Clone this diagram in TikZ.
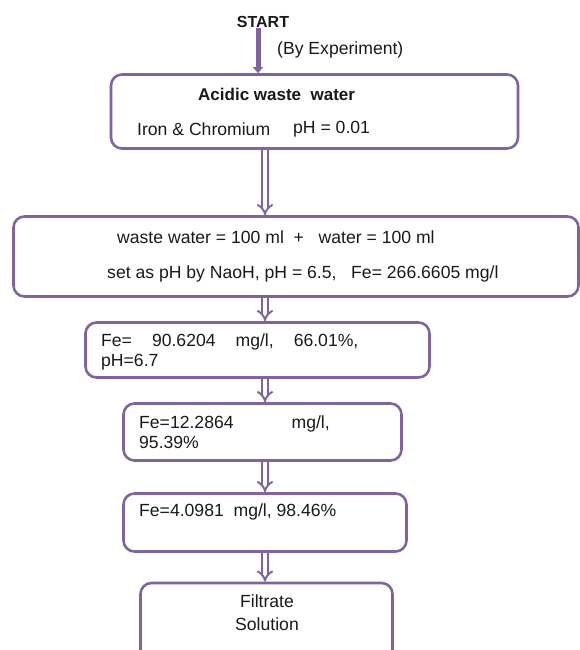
\documentclass[tikz,border=0pt]{standalone}
\usepackage{fontspec}
\setmainfont{Liberation Sans}
\usetikzlibrary{arrows.meta}
\definecolor{flowpurple}{RGB}{128,100,162}
\definecolor{flowtext}{RGB}{25,25,25}
\begin{document}
\begin{tikzpicture}[x=1pt,y=-1pt,
            box/.style={draw=flowpurple,line width=2.6pt,rounded corners=11pt,inner sep=0pt},
            txt/.style={text=flowtext,font=\fontsize{17.6}{20}\selectfont,inner sep=0pt,anchor=west},
            dblarrow/.style={draw=flowpurple,line width=2pt,double=white,double distance=3.4pt,-{Implies}},
            startarrow/.style={draw=flowpurple,line width=5pt,-{Triangle[width=10pt,length=6pt]}}]
            \useasboundingbox (0,0) rectangle (580,650);
            \coordinate (spine) at (265,0);
            \node[box,minimum width=407pt,minimum height=74pt] (acid) at (314.5,111.5) {};
            \node[box,minimum width=565pt,minimum height=80pt] (mix) at (296,256.5) {};
            \node[box,minimum width=344pt,minimum height=55pt] (feone) at (257.5,350) {};
            \node[box,minimum width=278pt,minimum height=57pt] (fetwo) at (262.5,432) {};
            \node[box,minimum width=283pt,minimum height=58pt] (fethree) at (265,522.5) {};
            \node[box,minimum width=252pt,minimum height=80pt] (filtrate) at (266.5,623) {};
            \node[txt,anchor=center,font=\fontsize{16}{20}\selectfont\bfseries] (start) at (263,22) {START};
            \node[txt] (byexp) at (277,50) {(By Experiment)};
            \node[txt,font=\fontsize{17}{20}\selectfont\bfseries] (acidtitle) at (198,94) {Acidic waste\ \ water};
            \node[txt] (acidmetal) at (137,129) {Iron \& Chromium};
            \node[txt] (acidph) at (293,129) {pH = 0.01};
            \node[txt] (mixvol) at (117,237) {waste water = 100 ml\ \ +\ \ \ water = 100 ml};
            \node[txt] (mixph) at (107,274) {set as pH by NaoH, pH = 6.5,\ \ \ Fe= 266.6605 mg/l};
            \node[txt,align=left] (feonetext) at (101,352) {Fe=\hspace{20pt}90.6204\hspace{20pt}mg/l,\hspace{20pt}66.01\%,\\pH=6.7};
            \node[txt,align=left] (fetwotext) at (139,432) {Fe=12.2864\hspace{58pt}mg/l,\\95.39\%};
            \node[txt] (fethreetext) at (139,512) {Fe=4.0981\ \ mg/l, 98.46\%};
            \node[txt,anchor=center,align=center,font=\fontsize{17.6}{23}\selectfont] (filtratetext) at (267,613) {Filtrate\\Solution};
            \draw[startarrow] ([xshift=-5pt]start.south) -- ([xshift=-5pt]start.south |- acid.north);
            \draw[dblarrow] (acid.south -| spine) -- (mix.north -| spine);
            \draw[dblarrow] (mix.south -| spine) -- (feone.north -| spine);
            \draw[dblarrow] (feone.south -| spine) -- (fetwo.north -| spine);
            \draw[dblarrow] (fetwo.south -| spine) -- (fethree.north -| spine);
            \draw[dblarrow] (fethree.south -| spine) -- (filtrate.north -| spine);
        \end{tikzpicture}
\end{document}
